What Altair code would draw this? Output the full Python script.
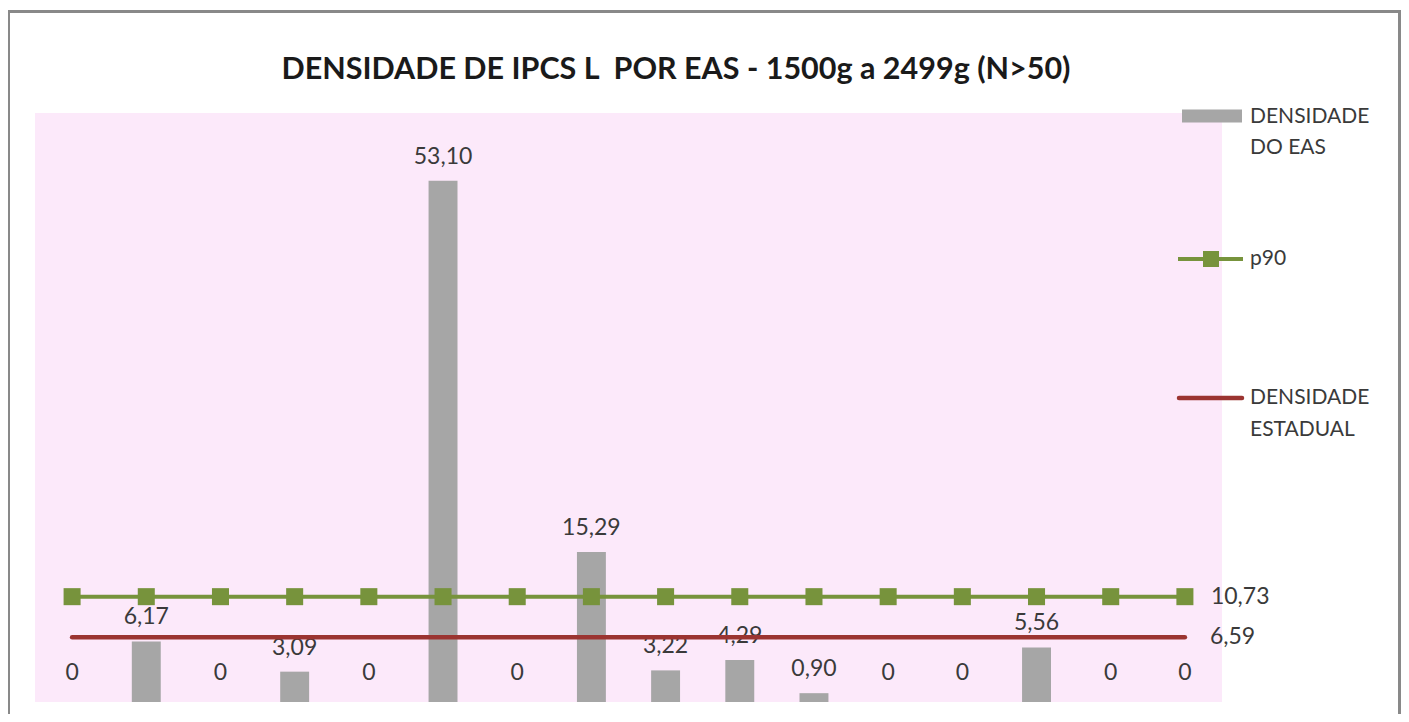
import altair as alt
import pandas as pd

CATEGORIES = [f"EAS {i}" for i in range(1, 17)]
DENSIDADE_EAS = [0, 6.17, 0, 3.09, 0, 53.10, 0, 15.29, 3.22, 4.29, 0.90, 0, 0, 5.56, 0, 0]
P90 = 10.73
ESTADUAL = 6.59
TITLE = "DENSIDADE DE IPCS L\u00a0 POR EAS - 1500g a 2499g (N>50)"

df = pd.DataFrame({
    "eas": CATEGORIES,
    "dens": DENSIDADE_EAS,
    "p90": [P90] * len(CATEGORIES),
    "est": [ESTADUAL] * len(CATEGORIES),
})

W, H = 1187, 589
FONT = "Lato"
TXT = "#3A3A3A"
GREEN = "#77933C"
RED = "#9B3431"
GRAY = "#A6A6A6"
FS = 21
NFS = 23

xenc = alt.X("eas:N", sort=CATEGORIES, axis=None,
             scale=alt.Scale(paddingInner=0.61, paddingOuter=0.305))
yscale = alt.Scale(domain=[0, 60], nice=False, zero=True)

base = alt.Chart(df).encode(x=xenc)

bars = base.mark_bar(color=GRAY).encode(y=alt.Y("dens:Q", scale=yscale, axis=None))

fmt = "datum.dens == 0 ? '0' : replace(format(datum.dens, '.2f'), '.', ',')"
lab = base.transform_calculate(lbl=fmt)
lab_nz = lab.transform_filter("datum.dens > 0").mark_text(
    font=FONT, fontSize=NFS, color=TXT, baseline="alphabetic", dy=-17
).encode(y=alt.Y("dens:Q", scale=yscale, axis=None), text="lbl:N")
lab_z = lab.transform_filter("datum.dens == 0").mark_text(
    font=FONT, fontSize=NFS, color=TXT, baseline="alphabetic", dy=-22
).encode(y=alt.Y("dens:Q", scale=yscale, axis=None), text="lbl:N")

est_line = base.mark_line(color=RED, strokeWidth=4.5, strokeCap="round").encode(
    y=alt.Y("est:Q", scale=yscale, axis=None))
p90_line = base.mark_line(color=GREEN, strokeWidth=4).encode(
    y=alt.Y("p90:Q", scale=yscale, axis=None))
p90_pts = base.mark_point(shape="square", filled=True, size=290, color=GREEN, opacity=1).encode(
    y=alt.Y("p90:Q", scale=yscale, axis=None))

last = base.transform_filter(alt.datum.eas == CATEGORIES[-1])
p90_lab = last.transform_calculate(lbl="replace(format(datum.p90, '.2f'), '.', ',')").mark_text(
    font=FONT, fontSize=NFS, color=TXT, align="left", baseline="middle", dx=26
).encode(y=alt.Y("p90:Q", scale=yscale, axis=None), text="lbl:N")
est_lab = last.transform_calculate(lbl="replace(format(datum.est, '.2f'), '.', ',')").mark_text(
    font=FONT, fontSize=NFS, color=TXT, align="left", baseline="middle", dx=25
).encode(y=alt.Y("est:Q", scale=yscale, axis=None), text="lbl:N")

one = pd.DataFrame({"k": [0]})


def txt(s, xv, yv, **kw):
    props = dict(font=FONT, fontSize=FS, color=TXT, align="left", baseline="middle")
    props.update(kw)
    return alt.Chart(one).mark_text(text=s, **props).encode(x=alt.value(xv), y=alt.value(yv))


title = txt(TITLE, 641, -34, fontSize=30.5, fontWeight="bold", color="#1A1A1A",
            align="center", baseline="alphabetic")

leg_bar = alt.Chart(one).mark_rect(color=GRAY).encode(
    x=alt.value(1147), x2=alt.value(1207), y=alt.value(-3.5), y2=alt.value(9.5))
leg_t1 = txt("DENSIDADE", 1215, 3.5)
leg_t2 = txt("DO EAS", 1215, 34.5)
leg_g = alt.Chart(one).mark_rule(color=GREEN, strokeWidth=4).encode(
    x=alt.value(1143), x2=alt.value(1208), y=alt.value(146))
leg_gp = alt.Chart(one).mark_point(shape="square", filled=True, size=256, color=GREEN, opacity=1).encode(
    x=alt.value(1176), y=alt.value(146))
leg_t3 = txt("p90", 1215, 146)
leg_r = alt.Chart(one).mark_rule(color=RED, strokeWidth=4.5, strokeCap="round").encode(
    x=alt.value(1144), x2=alt.value(1207), y=alt.value(285))
leg_t4 = txt("DENSIDADE", 1215, 285)
leg_t5 = txt("ESTADUAL", 1215, 317)

frame = alt.Chart(one).mark_rect(fillOpacity=0, stroke="#898989", strokeWidth=3).encode(
    x=alt.value(-26.5), x2=alt.value(1364.5), y=alt.value(-101.5), y2=alt.value(650))

chart = alt.layer(
    frame, bars, lab_nz, lab_z, est_line, p90_line, p90_pts, p90_lab, est_lab,
    title, leg_bar, leg_t1, leg_t2, leg_g, leg_gp, leg_t3, leg_r, leg_t4, leg_t5,
).properties(
    width=W, height=H,
    autosize=alt.AutoSizeParams(type="none"),
    padding={"left": 27, "top": 105, "right": 179, "bottom": 12},
    background="white",
).configure_view(fill="#FCE9FA", strokeWidth=0)

chart.save("out.html", embed_options={"renderer": "svg", "actions": False})
